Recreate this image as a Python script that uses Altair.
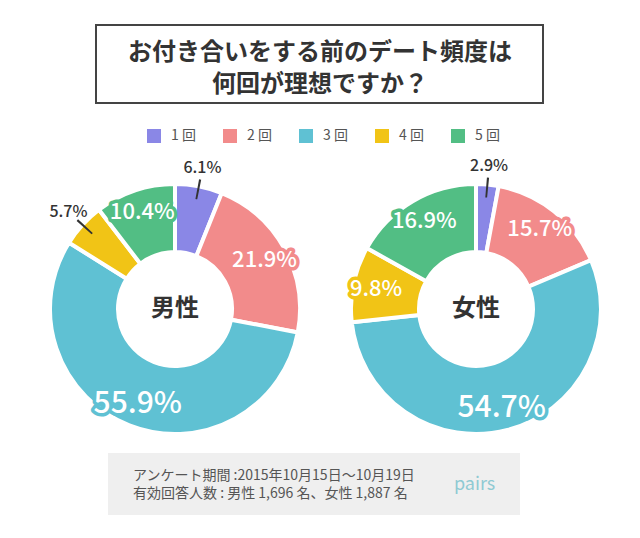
import math
import altair as alt
import pandas as pd

# ---- data ----
categories = ["1回", "2回", "3回", "4回", "5回"]
colors = ["#8A87E6", "#F28B8B", "#5FC1D3", "#F1C416", "#52BE84"]
genders = ["男性", "女性"]
male_values = [6.1, 21.9, 55.9, 5.7, 10.4]
female_values = [2.9, 15.7, 54.7, 9.8, 16.9]
title_lines = ["お付き合いをする前のデート頻度は", "何回が理想ですか？"]
footer_lines = ["アンケート期間 :2015年10月15日〜10月19日",
                "有効回答人数 : 男性 1,696 名、女性 1,887 名"]
brand = "pairs"

rows = []
for g, vals in zip(genders, [male_values, female_values]):
    start = 0.0
    for c, v in zip(categories, vals):
        rows.append(dict(gender=g, cat=c, value=v, start=start, end=start + v,
                         mid=start + v / 2, label=f"{v:.1f}%"))
        start += v
df = pd.DataFrame(rows)
gdf = pd.DataFrame({"gender": genders})
one = pd.DataFrame({"a": [0]})

FONT = "Noto Sans CJK JP"
W, H = 624, 522

x_enc = alt.X("gender:N", axis=None,
              scale=alt.Scale(type="point", domain=genders, range=[167, 468], padding=0))
y_val = alt.value(301)
theta_scale = alt.Scale(domain=[0, 100], range=[0, 2 * math.pi])
color_scale = alt.Scale(domain=categories, range=colors)

arcs = alt.Chart(df).mark_arc(outerRadius=125, innerRadius=57, stroke="white",
                              strokeWidth=4).encode(
    x=x_enc, y=y_val,
    theta=alt.Theta("start:Q", scale=theta_scale, stack=None),
    theta2="end:Q",
    color=alt.Color("cat:N", scale=color_scale, legend=alt.Legend(
        title=None, orient="none", legendX=139, legendY=121, direction="horizontal",
        symbolType="square", symbolSize=196, symbolStrokeWidth=0, symbolOpacity=1,
        labelFontSize=14, labelColor="#555555", labelFont=FONT, labelOffset=10,
        labelExpr="replace(datum.label, '回', ' 回')",
        columnPadding=27, padding=0)),
)

leaders = alt.Chart(df).transform_filter("datum.value < 8").transform_calculate(
    t1="datum.mid - 0.13", t2="datum.mid + 0.13"
).mark_arc(outerRadius=132, innerRadius=112, color="#333333").encode(
    x=x_enc, y=y_val,
    theta=alt.Theta("t1:Q", scale=theta_scale, stack=None),
    theta2="t2:Q",
)

inside = alt.Chart(df).transform_filter("datum.value >= 8")
size_rule = alt.condition(alt.datum.value > 50, alt.value(30), alt.value(22))

halo = inside.mark_text(align="center", baseline="middle", font=FONT, fontWeight=500,
                        strokeWidth=7, strokeJoin="round").encode(
    x=x_enc, y=y_val,
    theta=alt.Theta("mid:Q", scale=theta_scale, stack=None),
    radius=alt.value(102),
    text="label:N",
    color=alt.Color("cat:N", scale=color_scale, legend=None),
    stroke=alt.Stroke("cat:N", scale=color_scale, legend=None),
    size=size_rule,
)
white = inside.mark_text(align="center", baseline="middle", font=FONT, fontWeight=500,
                         color="white").encode(
    x=x_enc, y=y_val,
    theta=alt.Theta("mid:Q", scale=theta_scale, stack=None),
    radius=alt.value(102),
    text="label:N",
    size=size_rule,
)

outside = alt.Chart(df).transform_filter("datum.value < 8").mark_text(
    align="center", baseline="middle", font=FONT, fontWeight=500, fontSize=16,
    color="#333333").encode(
    x=x_enc, y=y_val,
    theta=alt.Theta("mid:Q", scale=theta_scale, stack=None),
    radius=alt.value(144),
    text="label:N",
)

centers = alt.Chart(gdf).mark_text(align="center", baseline="middle", font=FONT,
                                   fontWeight="bold", fontSize=24, color="#333333").encode(
    x=x_enc, y=y_val, text="gender:N")

title_box = alt.Chart(one).mark_rect(fill="white", stroke="#444444", strokeWidth=2).encode(
    x=alt.value(88), x2=alt.value(535), y=alt.value(17), y2=alt.value(95))
title = alt.Chart(one).mark_text(text=title_lines, align="center", baseline="middle",
                                 font=FONT, fontWeight="bold", fontSize=24, lineHeight=32,
                                 color="#333333").encode(x=alt.value(312), y=alt.value(45))

footer_box = alt.Chart(one).mark_rect(fill="#EFEFEF").encode(
    x=alt.value(100), x2=alt.value(512), y=alt.value(445), y2=alt.value(507))
footer = alt.Chart(one).mark_text(text=footer_lines, align="left", baseline="middle",
                                  font=FONT, fontSize=14, lineHeight=18,
                                  color="#555555").encode(x=alt.value(125), y=alt.value(468))
logo = alt.Chart(one).mark_text(text=brand, align="left", baseline="middle",
                                font=FONT, fontSize=18, color="#8FCAD3").encode(
    x=alt.value(446), y=alt.value(477))

chart = alt.layer(
    title_box, title, arcs, leaders, halo, white, outside, centers, footer_box, footer, logo
).properties(
    width=W, height=H, padding=0, autosize=alt.AutoSizeParams(type="none"),
    background="white",
).configure_view(stroke=None)

chart.save("out.html", embed_options={"renderer": "svg", "actions": False})
